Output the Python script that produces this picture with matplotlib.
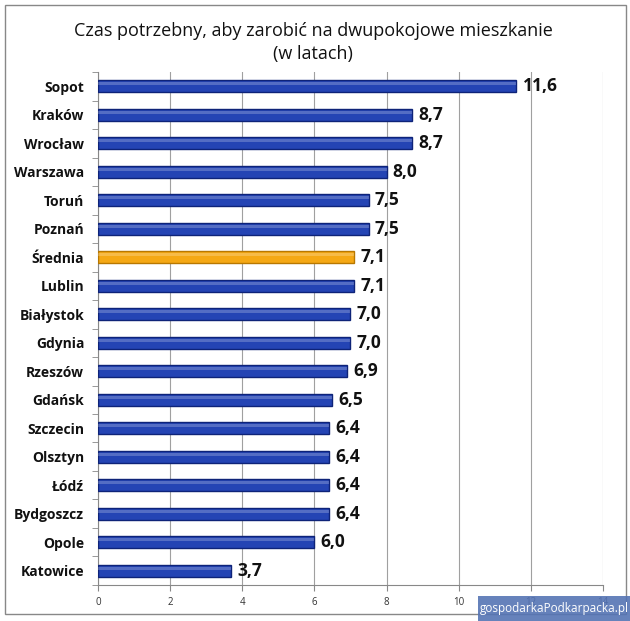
import matplotlib
matplotlib.use("Agg")
import matplotlib.pyplot as plt
from matplotlib.patches import Rectangle
import numpy as np

cities = ["Sopot", "Kraków", "Wrocław", "Warszawa", "Toruń", "Poznań", "Średnia",
          "Lublin", "Białystok", "Gdynia", "Rzeszów", "Gdańsk", "Szczecin", "Olsztyn",
          "Łódź", "Bydgoszcz", "Opole", "Katowice"]
values = [11.6, 8.7, 8.7, 8.0, 7.5, 7.5, 7.1, 7.1, 7.0, 7.0, 6.9, 6.5, 6.4, 6.4, 6.4, 6.4, 6.0, 3.7]
value_labels = ["11,6", "8,7", "8,7", "8,0", "7,5", "7,5", "7,1", "7,1", "7,0", "7,0",
                "6,9", "6,5", "6,4", "6,4", "6,4", "6,4", "6,0", "3,7"]
xticks = [0, 2, 4, 6, 8, 10, 12, 14]
title = "Czas potrzebny, aby zarobić na dwupokojowe mieszkanie\n(w latach)"

plt.rcParams['font.family'] = ['Open Sans', 'DejaVu Sans']

fig = plt.figure(figsize=(6.30, 6.21), dpi=100)
ax = fig.add_axes([0.1556, 0.058, 0.8014, 0.826])

n = len(cities)
y = np.arange(n)
colors = ["#F5A814" if c == "Średnia" else "#2444B4" for c in cities]
edges = ["#B87800" if c == "Średnia" else "#0E2378" for c in cities]
ax.barh(y, values, height=0.42, color=colors, edgecolor=edges, linewidth=1.0, zorder=3)
# highlight stripe for 3D look
ax.barh(y - 0.09, values, height=0.1, color="white", alpha=0.22, linewidth=0, zorder=4)

for yi, v, lab in zip(y, values, value_labels):
    ax.text(v + 0.17, yi, lab, va="center", ha="left", fontsize=12.5,
            fontweight="bold", color="#111111", zorder=5)

ax.set_xlim(0, 14)
ax.set_ylim(n - 0.5, -0.5)
ax.set_xticks(xticks)
ax.set_xticklabels([str(t) for t in xticks], fontsize=7, color="#333333")
ax.set_yticks(y)
ax.set_yticklabels(cities, fontsize=10, fontweight="bold", color="#111111")
ax.set_yticks(np.arange(-0.5, n, 1), minor=True)
ax.tick_params(axis="y", which="major", length=0, pad=10)
ax.tick_params(axis="y", which="minor", length=4, color="#888888", direction="out")
ax.tick_params(axis="x", which="major", length=4, color="#888888", pad=5)

ax.grid(axis="x", color="#A0A0A0", linewidth=0.8, zorder=0)
for s in ["top", "right"]:
    ax.spines[s].set_visible(False)
ax.spines["left"].set_color("#888888")
ax.spines["bottom"].set_color("#888888")

fig.text(0.497, 0.965, title, ha="center", va="top", fontsize=13,
         color="#111111", linespacing=1.4)

# outer border
fig.patches.append(Rectangle((0.008, 0.012), 0.985, 0.98, transform=fig.transFigure,
                             fill=False, edgecolor="#888888", linewidth=1.0))
# watermark
fig.patches.append(Rectangle((0.759, 0.0), 0.241, 0.040, transform=fig.transFigure,
                             facecolor="#5574B4", edgecolor="none", alpha=0.9, zorder=10))
fig.text(0.8795, 0.020, "gospodarkaPodkarpacka.pl", ha="center", va="center",
         fontsize=8.5, color="white", zorder=11)

fig.savefig("out.png", dpi=100)
